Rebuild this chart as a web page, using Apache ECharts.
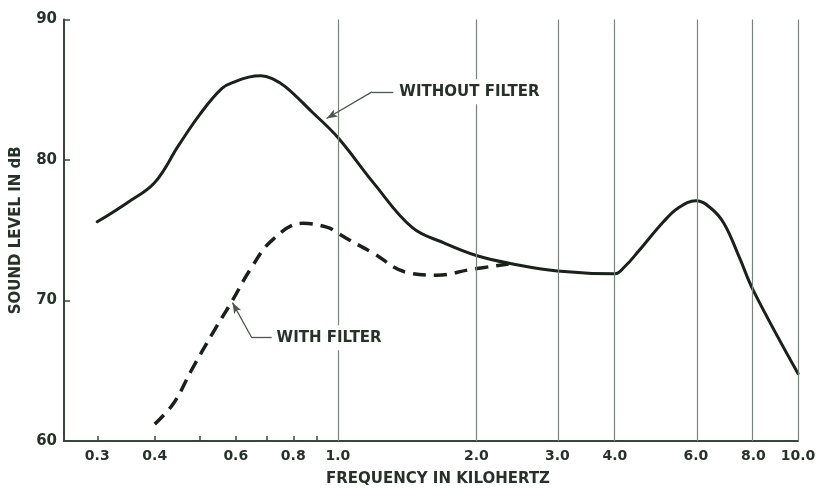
<!DOCTYPE html>
<html>
<head>
<meta charset="utf-8">
<script src="https://cdn.jsdelivr.net/npm/echarts@6/dist/echarts.min.js"></script>
<style>
html,body{margin:0;padding:0;background:#fff;}
#c{width:821px;height:489px;}
</style>
</head>
<body>
<div id="c"></div>
<script>
// ---- data (frequency in kHz, sound level in dB) ----
const withoutFreq = [0.3, 0.35, 0.4, 0.45, 0.5, 0.56, 0.6, 0.64, 0.68, 0.72, 0.77, 0.88, 1.0, 1.2, 1.45, 1.7, 2.0, 2.4, 3.0, 4.0, 4.2, 4.5, 5.1, 5.5, 6.0, 6.45, 6.9, 7.45, 8.0, 10.0];
const withoutDb   = [75.6, 77.0, 78.4, 81.0, 83.2, 85.1, 85.6, 85.9, 86.0, 85.8, 85.2, 83.4, 81.6, 78.3, 75.2, 74.1, 73.2, 72.6, 72.1, 71.9, 72.4, 73.5, 75.6, 76.6, 77.1, 76.6, 75.5, 73.1, 70.7, 64.8];
const withFreq = [0.4, 0.44, 0.48, 0.535, 0.59, 0.645, 0.72, 0.84, 0.95, 1.0, 1.06, 1.19, 1.41, 1.64, 1.94, 2.35];
const withDb   = [61.2, 62.7, 65.0, 67.7, 70.0, 72.2, 74.3, 75.5, 75.2, 74.8, 74.3, 73.4, 72.0, 71.8, 72.2, 72.6];
const xTickValues = [0.3, 0.4, 0.6, 0.8, 1.0, 2.0, 3.0, 4.0, 6.0, 8.0, 10.0];
const xTickLabels = ['0.3', '0.4', '0.6', '0.8', '1.0', '2.0', '3.0', '4.0', '6.0', '8.0', '10.0'];
const xMinorTicks = [0.3, 0.4, 0.5, 0.6, 0.7, 0.8, 0.9];
const xGridLines = [1.0, 2.0, 3.0, 4.0, 6.0, 8.0, 10.0];
const xMin = 0.254, xMax = 10;

// annotations (data coords): text anchor, elbow, arrow tip
const annWithout = { text: 'WITHOUT FILTER', textAt: [1.34, 84.85], elbowStart: [1.32, 84.85], elbow: [1.186, 84.85], tip: [0.945, 82.95] };
const annWith = { text: 'WITH FILTER', textAt: [0.725, 67.35], elbowStart: [0.718, 67.35], elbow: [0.65, 67.35], tip: [0.59, 69.85] };

const L = Math.log10;
const ink = '#1a211b';
const txt = '#27312a';
const axisCol = '#3a453c';
const gridCol = '#7b847c';
const FONT = 'DejaVu Sans';

const toPts = (fs, ds) => fs.map((f, i) => [L(f), ds[i]]);
const lp = p => [L(p[0]), p[1]];

const chart = echarts.init(document.getElementById('c'));

function labelFor(v) {
  let best = 0, bd = Infinity;
  xTickValues.forEach((t, i) => { const d = Math.abs(L(t) - v); if (d < bd) { bd = d; best = i; } });
  return xTickLabels[best];
}

const leader = (a) => [
  [{ coord: lp(a.elbowStart), symbol: 'none' }, { coord: lp(a.elbow), symbol: 'none' }],
  [{ coord: lp(a.elbow), symbol: 'none' }, { coord: lp(a.tip), symbol: 'arrow', symbolSize: [6, 11] }]
];

chart.setOption({
  animation: false,
  backgroundColor: '#ffffff',
  grid: { left: 64, right: 23, top: 19.5, bottom: 48, containLabel: false, outerBoundsMode: 'none' },
  xAxis: {
    type: 'value',
    min: L(xMin), max: L(xMax),
    name: 'FREQUENCY IN KILOHERTZ',
    nameLocation: 'middle',
    nameGap: 31,
    nameTextStyle: { fontFamily: FONT, fontSize: 15, fontWeight: 'bold', color: txt, padding: [0, 0, 0, 14] },
    axisLine: { show: true, onZero: false, lineStyle: { color: axisCol, width: 2 } },
    axisTick: { show: true, inside: true, length: 5, lineStyle: { color: axisCol, width: 1.5 }, customValues: xMinorTicks.map(L) },
    axisLabel: { customValues: xTickValues.map(L), formatter: v => labelFor(v), fontFamily: FONT, fontSize: 14, fontWeight: 'bold', color: txt, margin: 8 },
    splitLine: { show: false }
  },
  yAxis: {
    type: 'value',
    min: 60, max: 90, interval: 10,
    name: 'SOUND LEVEL IN dB',
    nameLocation: 'middle',
    nameRotate: 90,
    nameGap: 40,
    nameTextStyle: { fontFamily: FONT, fontSize: 15, fontWeight: 'bold', color: txt },
    axisLine: { show: true, onZero: false, lineStyle: { color: axisCol, width: 2 } },
    axisTick: { show: true, inside: true, length: 6, lineStyle: { color: axisCol, width: 1.5 } },
    axisLabel: { fontFamily: FONT, fontSize: 15, fontWeight: 'bold', color: txt, margin: 7 },
    splitLine: { show: false }
  },
  series: [
    {
      name: 'grid', type: 'line', data: [], z: 1, silent: true,
      markLine: {
        silent: true, symbol: ['none', 'none'], animation: false,
        label: { show: false },
        lineStyle: { color: gridCol, width: 1.2, type: 'solid' },
        data: xGridLines.map(f => ({ xAxis: L(f) }))
      }
    },
    {
      name: 'WITHOUT FILTER', type: 'line', data: toPts(withoutFreq, withoutDb),
      smooth: 0.4, showSymbol: false, z: 3,
      lineStyle: { color: ink, width: 3, cap: 'round', join: 'round' }
    },
    {
      name: 'WITH FILTER', type: 'line', data: toPts(withFreq, withDb),
      smooth: 0.4, showSymbol: false, z: 3,
      lineStyle: { color: ink, width: 3.5, type: [13, 8], cap: 'butt' }
    },
    {
      name: 'leaders', type: 'line', data: [], z: 4, silent: true,
      markLine: {
        silent: true, animation: false,
        label: { show: false },
        lineStyle: { color: '#4d584f', width: 1.3, type: 'solid' },
        data: leader(annWithout).concat(leader(annWith))
      }
    }
  ]
});

function annText(a) {
  const p = chart.convertToPixel({ gridIndex: 0 }, lp(a.textAt));
  return {
    type: 'text', z: 100, x: p[0], y: p[1],
    style: {
      text: a.text, fontFamily: FONT, fontSize: 15, fontWeight: 'bold', fill: txt,
      align: 'left', verticalAlign: 'middle',
      backgroundColor: '#ffffff', padding: [5, 3, 5, 3]
    }
  };
}
chart.setOption({ graphic: [annText(annWithout), annText(annWith)] });
</script>
</body>
</html>
